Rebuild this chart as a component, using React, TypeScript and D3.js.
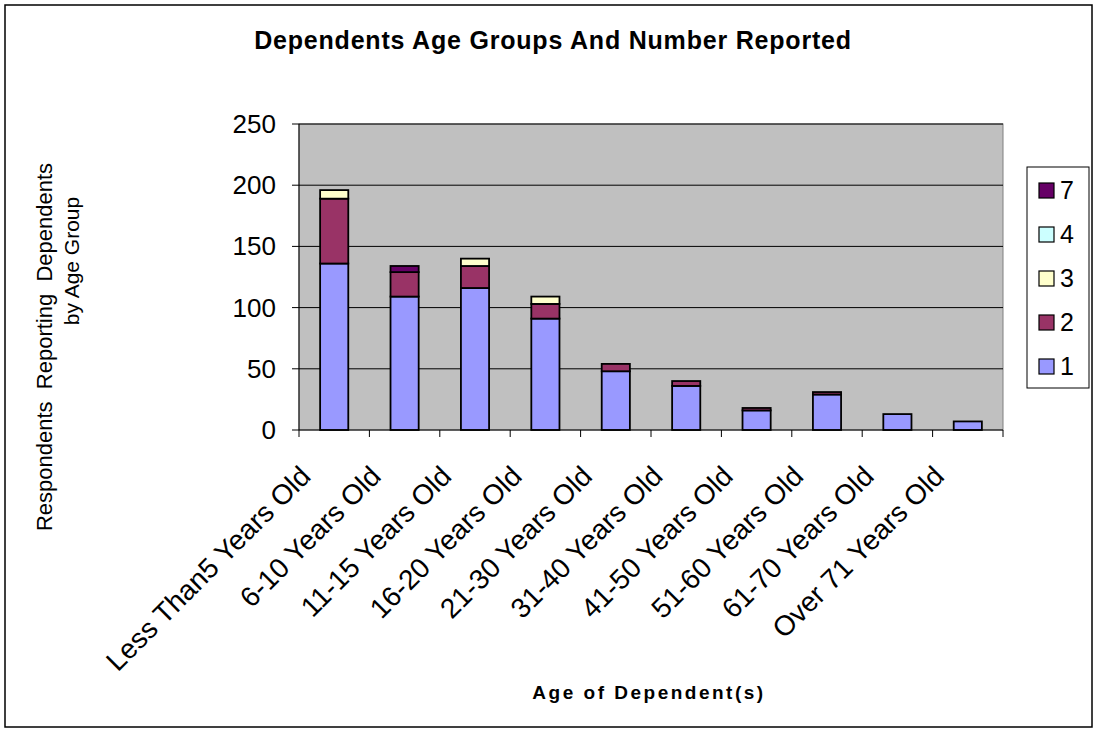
import React from "react";
import * as d3 from "d3";

const categories = [
  "Less Than5 Years Old",
  "6-10 Years Old",
  "11-15 Years Old",
  "16-20 Years Old",
  "21-30 Years Old",
  "31-40 Years Old",
  "41-50 Years Old",
  "51-60 Years Old",
  "61-70 Years Old",
  "Over 71 Years Old",
];
const series1 = [136, 109, 116, 91, 48, 36, 16, 29, 13, 7];
const series2 = [53, 20, 18, 12, 6, 4, 2, 2, 0, 0];
const series3 = [7, 0, 6, 6, 0, 0, 0, 0, 0, 0];
const series4 = [0, 0, 0, 0, 0, 0, 0, 0, 0, 0];
const series7 = [0, 5, 0, 0, 0, 0, 0, 0, 0, 0];
const seriesNames = ["1", "2", "3", "4", "7"];
const seriesColors = ["#9999FF", "#993366", "#FFFFCC", "#CCFFFF", "#660066"];
const yTicks = [0, 50, 100, 150, 200, 250];

const W = 1097;
const H = 732;
const plot = { left: 299, right: 1003, top: 124, bottom: 430 };
const font = "Arial, 'Liberation Sans', Helvetica, sans-serif";

export default function App() {
  const allSeries = [series1, series2, series3, series4, series7];
  const x = d3.scaleBand<string>().domain(categories).range([plot.left, plot.right]).paddingInner(0.6).paddingOuter(0.3);
  const band = d3.scaleBand<string>().domain(categories).range([plot.left, plot.right]);
  const y = d3.scaleLinear().domain([0, 250]).range([plot.bottom, plot.top]);

  const rows = categories.map((c, i) => {
    const r: any = { cat: c };
    seriesNames.forEach((s, k) => (r[s] = allSeries[k][i]));
    return r;
  });
  const stacked = d3.stack().keys(seriesNames)(rows);

  const legendY = [190, 234, 278, 322, 366];
  const legendOrder = [4, 3, 2, 1, 0];

  return (
    <svg width={W} height={H} style={{ position: "absolute", left: 0, top: 0, background: "#fff" }} fontFamily={font}>
      <rect x={5} y={5} width={W - 10} height={H - 10} fill="#fff" stroke="#000" strokeWidth={1.5} />
      <text x={553} y={49} textAnchor="middle" fontSize={25} fontWeight="bold" letterSpacing={0.8}>
        Dependents Age Groups And Number Reported
      </text>
      <rect x={plot.left} y={plot.top} width={plot.right - plot.left} height={plot.bottom - plot.top} fill="#C0C0C0" stroke="#808080" strokeWidth={1} />
      {yTicks.map((t) => (
        <g key={t}>
          {t > 0 && <line x1={plot.left} x2={plot.right} y1={y(t)} y2={y(t)} stroke="#000" strokeWidth={1} />}
          <line x1={plot.left - 7} x2={plot.left} y1={y(t)} y2={y(t)} stroke="#000" />
          <text x={276} y={y(t) + 9} textAnchor="end" fontSize={26}>
            {t}
          </text>
        </g>
      ))}
      <line x1={plot.left} x2={plot.left} y1={plot.top} y2={plot.bottom} stroke="#000" strokeWidth={1} />
      {stacked.map((s, k) =>
        s.map((d, i) =>
          d[1] - d[0] > 0 ? (
            <rect
              key={k + "-" + i}
              x={x(categories[i])!}
              y={y(d[1])}
              width={x.bandwidth()}
              height={y(d[0]) - y(d[1])}
              fill={seriesColors[k]}
              stroke="#000"
              strokeWidth={1.8}
            />
          ) : null
        )
      )}
      <line x1={plot.left} x2={plot.right} y1={plot.bottom} y2={plot.bottom} stroke="#000" strokeWidth={1} />
      {categories.map((c, i) => (
        <line key={"t" + i} x1={band(c)!} x2={band(c)!} y1={plot.bottom} y2={plot.bottom + 7} stroke="#000" />
      ))}
      <line x1={plot.right} x2={plot.right} y1={plot.bottom} y2={plot.bottom + 7} stroke="#000" />
      {categories.map((c, i) => {
        const cx = band(c)! + band.bandwidth() / 2 - 22;
        const cy = 478;
        return (
          <text key={"l" + i} x={cx} y={cy} textAnchor="end" fontSize={28} transform={`rotate(-45, ${cx}, ${cy})`}>
            {c}
          </text>
        );
      })}
      <text x={649} y={699} textAnchor="middle" fontSize={19} fontWeight="bold" letterSpacing={2.5}>
        Age of Dependent(s)
      </text>
      <g transform="translate(52, 347) rotate(-90)">
        <text x={0} y={0} textAnchor="middle" fontSize={22} style={{ whiteSpace: "pre" }}>
          {"Respondents  Reporting  Dependents"}
        </text>
        <text x={86} y={27} textAnchor="middle" fontSize={21}>
          by Age Group
        </text>
      </g>
      <rect x={1027} y={167} width={62} height={221} fill="#fff" stroke="#000" strokeWidth={1} />
      {legendOrder.map((k, j) => (
        <g key={"lg" + k}>
          <rect x={1039} y={legendY[j] - 7} width={15} height={15} fill={seriesColors[k]} stroke="#000" strokeWidth={1.2} />
          <text x={1060} y={legendY[j] + 9} fontSize={25}>
            {seriesNames[k]}
          </text>
        </g>
      ))}
    </svg>
  );
}
